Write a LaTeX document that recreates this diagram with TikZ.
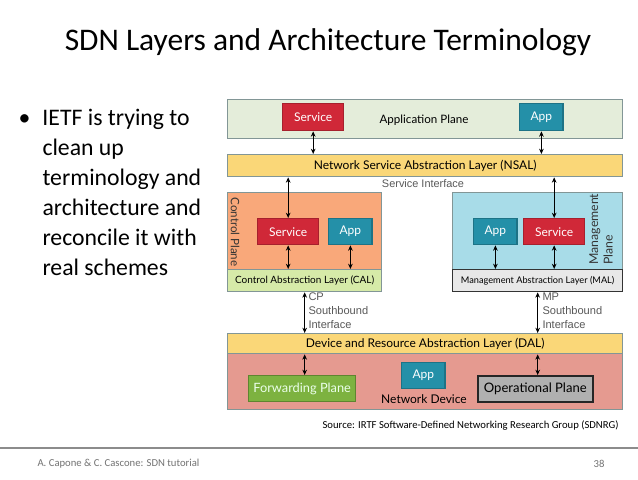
\documentclass[tikz,border=0pt]{standalone}
\usepackage{fontspec}
\setmainfont{Carlito}
\newfontfamily\diagfont{Lato}
\newfontfamily\ariafont{Liberation Sans}
\usetikzlibrary{arrows.meta}

\definecolor{applfill}{RGB}{228,237,218}
\definecolor{layerfill}{RGB}{250,215,120}
\definecolor{ctrlfill}{RGB}{249,168,122}
\definecolor{calfill}{RGB}{214,234,168}
\definecolor{mgmtfill}{RGB}{168,220,232}
\definecolor{malfill}{RGB}{232,232,232}
\definecolor{devfill}{RGB}{229,154,144}
\definecolor{srvred}{RGB}{208,40,56}
\definecolor{appteal}{RGB}{36,144,168}
\definecolor{fwdgreen}{RGB}{125,178,64}
\definecolor{opgray}{RGB}{176,176,176}
\definecolor{edgegray}{RGB}{130,150,150}

\tikzset{every picture/.style={line width=0.75pt}}
\tikzset{
  box/.style={draw=edgegray, line width=1pt, anchor=north west, inner sep=0pt, font=\diagfont\fontsize{9}{10}\selectfont},
  srvbox/.style={box, fill=srvred, draw=srvred!80!black, text=white, minimum width=45.75pt, minimum height=19.5pt},
  appbox/.style={box, fill=appteal, draw=appteal!80!black, text=white, minimum width=32.6pt, minimum height=19.5pt},
  biarrow/.style={{Stealth[length=4pt,width=3.5pt]}-{Stealth[length=4pt,width=3.5pt]}, line width=0.9pt},
  iflabel/.style={anchor=north west, inner sep=0pt, align=left, text=black!65, font=\ariafont\fontsize{8.3}{10.5}\selectfont}
}

\begin{document}
\begin{tikzpicture}[x=0.75pt,y=0.75pt,yscale=-1,xscale=1]
\useasboundingbox (0,0) rectangle (638,479);
\fill[white] (0,0) rectangle (638,479);

% Title and bullet
\draw (328,42) node [font=\fontsize{23.6}{26}\selectfont] (title) {SDN Layers and Architecture Terminology};
\draw (42,109) node [anchor=north west, inner sep=0pt, align=left, font=\fontsize{17.8}{22.4}\selectfont] (bullet) {\makebox[0pt][r]{\textbullet\hspace{9pt}}IETF is trying to\\clean up\\terminology and\\architecture and\\reconcile it with\\real schemes};

% Application plane
\draw (227,99) node [box, fill=applfill, minimum width=296.25pt, minimum height=29.25pt] (appl) {};
\draw (424,120) node [font=\diagfont\fontsize{8.7}{10}\selectfont] (appltxt) {Application Plane};
\draw (282,103) node [srvbox, minimum height=20.25pt] (srvA) {Service};
\draw (519,103) node [appbox, minimum height=20.25pt] (appA) {App};

% NSAL
\draw (227,154) node [box, fill=layerfill, minimum width=296.25pt, minimum height=16.5pt] (nsal) {Network Service Abstraction Layer (NSAL)};
\draw (423,184) node [inner sep=0pt, text=black!65, font=\ariafont\fontsize{8.2}{9}\selectfont] (sitxt) {Service Interface};

% Control plane
\draw (227,192) node [box, fill=ctrlfill, minimum width=115.5pt, minimum height=57.75pt] (ctrl) {};
\draw (227,269) node [box, fill=calfill, minimum width=115.5pt, minimum height=16.5pt, font=\diagfont\fontsize{7.5}{8}\selectfont] (cal) {Control Abstraction Layer (CAL)};
\draw (235,232) node [rotate=-90, inner sep=0pt, text=black!80, font=\diagfont\fontsize{8.7}{9}\selectfont] (ctrltxt) {Control Plane};
\draw (257,218) node [srvbox] (srvC) {Service};
\draw (328,218) node [appbox] (appC) {App};

% Management plane
\draw (452,192) node [box, fill=mgmtfill, minimum width=127.5pt, minimum height=57.75pt] (mgmt) {};
\draw (452,269) node [box, draw=black!80, fill=malfill, minimum width=127.5pt, minimum height=16.5pt, font=\diagfont\fontsize{6.9}{8}\selectfont] (mal) {Management Abstraction Layer (MAL)};
\draw (601,229) node [rotate=90, inner sep=0pt, align=left, text=black!80, font=\diagfont\fontsize{9.2}{11}\selectfont] (mgmttxt) {Management\\Plane};
\draw (473,218) node [appbox] (appM) {App};
\draw (523,218) node [srvbox] (srvM) {Service};

% DAL and network device
\draw (227,333) node [box, fill=layerfill, minimum width=296.25pt, minimum height=15pt] (dal) {Device and Resource Abstraction Layer (DAL)};
\draw (227,353) node [box, fill=devfill, minimum width=296.25pt, minimum height=42pt] (dev) {};
\draw (424,399) node [inner sep=0pt, font=\diagfont\fontsize{9}{10}\selectfont] (devtxt) {Network Device};
\draw (248,375) node [box, fill=fwdgreen, draw=fwdgreen!75!black, text=white!92!green, minimum width=80.25pt, minimum height=19.5pt, font=\diagfont\fontsize{9.6}{10}\selectfont] (fwd) {Forwarding Plane};
\draw (401,362) node [appbox] (appD) {App};
\draw (477,375) node [box, fill=opgray, draw=black!85, line width=1.2pt, minimum width=86.25pt, minimum height=19.5pt, font=\diagfont\fontsize{9.8}{10}\selectfont] (oper) {Operational Plane};

% Connectors
\draw [biarrow] (srvA.south) -- (srvA.south |- nsal.north);
\draw [biarrow] (appA.south) -- (appA.south |- nsal.north);
\draw [biarrow] (srvC.north) -- (srvC.north |- nsal.south);
\draw [biarrow] (srvM.north) -- (srvM.north |- nsal.south);
\draw [biarrow] (srvC.south) -- (srvC.south |- cal.north);
\draw [biarrow] (appC.south) -- (appC.south |- cal.north);
\draw [biarrow] (appM.south) -- (appM.south |- mal.north);
\draw [biarrow] (srvM.south) -- (srvM.south |- mal.north);
\draw [biarrow] (cal.south) -- (cal.south |- dal.north);
\draw [biarrow] (mal.south) -- (mal.south |- dal.north);
\draw [biarrow] (cal.south |- dal.south) -- (cal.south |- fwd.north);
\draw [biarrow] (mal.south |- dal.south) -- (mal.south |- oper.north);

% Interface labels
\draw (308,292) node [iflabel] (cpif) {CP\\Southbound\\Interface};
\draw (542,292) node [iflabel] (mpif) {MP\\Southbound\\Interface};

% Source and footer
\draw (619,426) node [anchor=east, inner sep=0pt, font=\fontsize{8}{9}\selectfont] (src) {Source: IRTF Software-Defined Networking Research Group (SDNRG)};
\draw [black!45, line width=1.2pt] (0,448) -- (638,448);
\draw (37,464) node [anchor=west, inner sep=0pt, text=black!55, font=\fontsize{8}{9}\selectfont] (foot) {A. Capone \& C. Cascone: SDN tutorial};
\draw (605,464) node [anchor=east, inner sep=0pt, text=black!55, font=\fontsize{8}{9}\selectfont] (page) {38};
\end{tikzpicture}
\end{document}
